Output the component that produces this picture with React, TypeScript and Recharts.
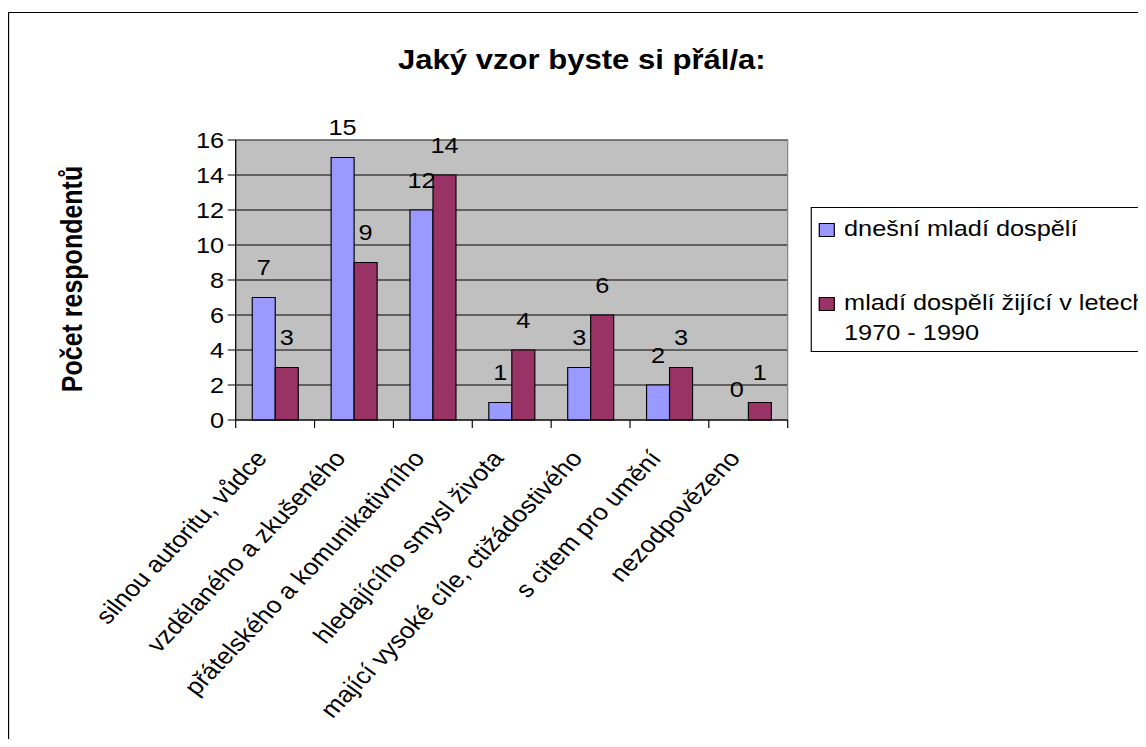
import React from 'react';
import { BarChart, Bar, XAxis, YAxis, CartesianGrid, LabelList, ReferenceArea, Rectangle } from 'recharts';

const categories = [
    'silnou autoritu, vůdce',
    'vzdělaného a zkušeného',
    'přátelského a komunikativního',
    'hledajícího smysl života',
    'mající vysoké cíle, ctižádostivého',
    's citem pro umění',
    'nezodpovězeno',
];
const dnesniMladi = [7, 15, 12, 1, 3, 2, 0];
const mladiVLetech = [3, 9, 14, 4, 6, 3, 1];
const yTicks = [0, 2, 4, 6, 8, 10, 12, 14, 16];
const seriesNames = ['dnešní mladí dospělí', 'mladí dospělí žijící v letech 1970 - 1990'];
const seriesColors = ['#9999FF', '#993366'];

const data = categories.map((name, i) => ({ name, a: dnesniMladi[i], b: mladiVLetech[i] }));

// the reference picture is stretched sideways, so the chart is drawn narrow and scaled
const STRETCH = 1.15;
const FONT = '"Liberation Sans", Arial, sans-serif';

// category label plus Excel-style tick marks on the category boundaries
const CategoryTick = ({ x, y, payload, index }: any) => {
    const half = payload.offset || 0;
    const ax = x - 6;
    const ay = y + 39;
    return (
        <g>
            <line x1={x - half} x2={x - half} y1={y} y2={y + 8} stroke="#000" />
            {index === categories.length - 1 && <line x1={x + half} x2={x + half} y1={y} y2={y + 8} stroke="#000" />}
            <text x={ax} y={ay} transform={`rotate(-50 ${ax} ${ay})`} textAnchor="end" fontSize={23} fill="#000" fontFamily={FONT}>
                {payload.value}
            </text>
        </g>
    );
};

const ValueLabel = ({ x, y, width, value }: any) => (
    <text x={x + width / 2} y={y - 22} textAnchor="middle" fontSize={22} fill="#000" fontFamily={FONT}>
        {value}
    </text>
);

// zero bars keep their label but draw no box
const BarShape = (props: any) => (props.value === 0 ? <g /> : <Rectangle {...props} />);

export default function App() {
    return (
        <div
            style={{
                position: 'relative',
                top: 4,
                width: 1138 / STRETCH,
                height: 731,
                transform: `scaleX(${STRETCH})`,
                transformOrigin: '0 0',
                borderLeft: '1px solid #000',
                borderTop: '1px solid #000',
                boxSizing: 'border-box',
                overflow: 'hidden',
                background: '#fff',
                fontFamily: FONT,
            }}
        >
            <div
                style={{
                    position: 'absolute',
                    left: 198,
                    top: 31,
                    width: 600,
                    textAlign: 'center',
                    fontSize: 27,
                    lineHeight: '32px',
                    fontWeight: 'bold',
                }}
            >
                Jaký vzor byste si přál/a:
            </div>
            <div
                style={{
                    position: 'absolute',
                    left: 55,
                    top: 266,
                    transform: 'translate(-50%, -50%) rotate(-90deg)',
                    whiteSpace: 'nowrap',
                    fontSize: 25,
                    fontWeight: 'bold',
                }}
            >
                Počet respondentů
            </div>

            <BarChart
                width={988}
                height={730}
                data={data}
                margin={{ top: 127, right: 311, left: 137, bottom: 0 }}
                barGap={0}
                barCategoryGap="21%"
            >
                <CartesianGrid vertical={false} stroke="#000" fill="#C0C0C0" fillOpacity={1} />
                <ReferenceArea y1={0} y2={16} fill="none" stroke="#808080" />
                <XAxis
                    dataKey="name"
                    interval={0}
                    height={323}
                    tickSize={0}
                    tickMargin={0}
                    tickLine={false}
                    axisLine={{ stroke: '#000' }}
                    tick={<CategoryTick />}
                />
                <YAxis
                    domain={[0, 16]}
                    ticks={yTicks}
                    width={60}
                    tickSize={7}
                    tickMargin={3}
                    axisLine={{ stroke: '#000' }}
                    tickLine={{ stroke: '#000' }}
                    tick={{ fontSize: 22, fill: '#000', fontFamily: FONT }}
                />
                <Bar
                    dataKey="a"
                    name={seriesNames[0]}
                    fill={seriesColors[0]}
                    stroke="#000"
                    strokeWidth={1}
                    minPointSize={0.5}
                    shape={BarShape}
                    isAnimationActive={false}
                >
                    <LabelList dataKey="a" content={<ValueLabel />} />
                </Bar>
                <Bar
                    dataKey="b"
                    name={seriesNames[1]}
                    fill={seriesColors[1]}
                    stroke="#000"
                    strokeWidth={1}
                    minPointSize={0.5}
                    shape={BarShape}
                    isAnimationActive={false}
                >
                    <LabelList dataKey="b" content={<ValueLabel />} />
                </Bar>
            </BarChart>

            <div
                style={{
                    position: 'absolute',
                    left: 697,
                    top: 194,
                    width: 330,
                    height: 145,
                    boxSizing: 'border-box',
                    border: '1px solid #000',
                    padding: '6px 0 0 6px',
                    fontSize: 22,
                    lineHeight: '30px',
                }}
            >
                {seriesNames.map((name, i) => (
                    <div key={name} style={{ display: 'flex', alignItems: 'flex-start', marginBottom: 44 }}>
                        <span
                            style={{
                                width: 12,
                                height: 12,
                                marginTop: 9,
                                marginRight: 8,
                                border: '1px solid #000',
                                background: seriesColors[i],
                                flexShrink: 0,
                            }}
                        />
                        <span style={{ width: 270 }}>{name}</span>
                    </div>
                ))}
            </div>
        </div>
    );
}
